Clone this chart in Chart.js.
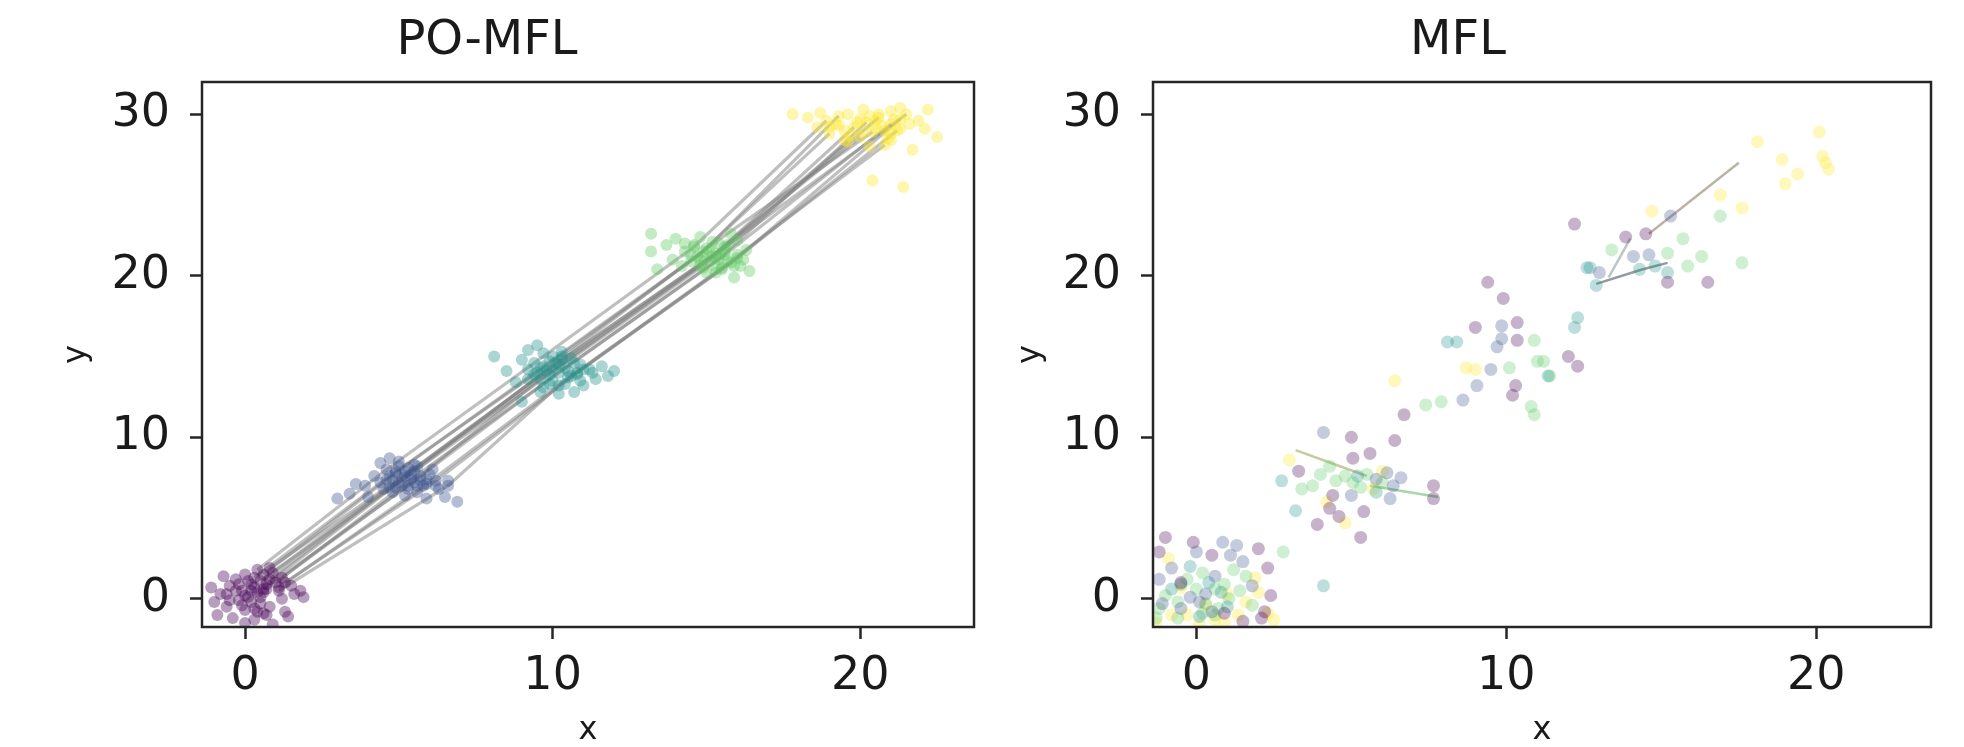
<!DOCTYPE html>
<html>
<head>
<meta charset="utf-8">
<script src="https://cdn.jsdelivr.net/npm/chart.js@4.4.1/dist/chart.umd.min.js"></script>
<style>
  html, body { margin: 0; padding: 0; background: #fff; }
  body { width: 1964px; height: 747px; position: relative; overflow: hidden; }
  .panel { position: absolute; top: 0; height: 747px; }
  #left { left: 0; width: 985px; }
  #right { left: 985px; width: 979px; }
</style>
</head>
<body>
<div class="panel" id="left"><canvas id="poChart" width="985" height="747"></canvas></div>
<div class="panel" id="right"><canvas id="mflChart" width="979" height="747"></canvas></div>
<script>
// axis setup
const xTicks = [0, 10, 20];
const yTicks = [0, 10, 20, 30];
const xRange = [-1.4, 23.7];
const yRange = [-1.75, 32.0];

// PO-MFL: one array pair per time step, first TRACKS entries are linked by the grey paths
const TRACKS = 14;
const poPurpleX = [0.4, 0.6, 0.8, 1.0, 0.7, 1.2, 0.9, 1.1, 0.5, 1.3, 0.6, 1.1, 0.3, 0.8,
  -0.8, -0.5, -0.3, 0.0, 0.2, 0.4, -1.0, -0.6, -0.2, 0.1, 0.3, 0.5, 0.7, 1.2, 1.5, 1.8, 1.9,
  -0.4, 0.0, 0.3, 0.9, 1.3, -1.1, -0.7, 0.6, 0.2, -0.1, 1.4, 1.6, -0.9,
  -0.3, 0.0, 0.3, 0.6, -0.5, -0.1, 0.2, 0.5, 0.8, -0.2, 0.1, 0.4, -0.6, 0.7, 0.0];
const poPurpleY = [1.8, 1.5, 1.2, 1.0, 0.9, 1.3, 1.6, 0.7, 1.1, 1.0, 0.6, 0.5, 1.3, 1.9,
  0.3, 0.8, 1.2, 1.5, 0.9, 0.4, -0.2, -0.5, -0.1, 0.1, -0.6, -0.3, -1.0, 0.0, 0.8, 0.5, 0.1,
  -1.2, -1.5, -1.3, -1.6, -0.8, 0.7, 1.4, -0.9, 0.5, 0.5, -1.1, 0.3, -1.0,
  0.5, 0.2, 0.7, 0.4, -0.1, -0.4, -0.2, 0.1, -0.5, 0.9, 1.1, -0.8, 0.3, 0.6, -0.7];

const poBlueX = [4.6, 4.9, 5.2, 5.4, 5.0, 5.7, 5.5, 5.9, 5.1, 6.2, 5.3, 6.6, 4.7, 5.6,
  3.0, 3.4, 3.9, 4.2, 4.4, 4.7, 5.0, 5.3, 4.5, 4.9, 5.2, 5.6, 5.8, 6.0, 6.3, 6.5, 6.9,
  6.6, 4.0, 5.5, 4.8, 5.9, 3.6, 6.1,
  4.6, 4.9, 5.1, 5.4, 5.7, 4.8, 5.0, 5.3, 5.6, 4.4, 5.9, 5.2, 4.7, 5.5, 6.2];
const poBlueY = [8.0, 7.8, 7.6, 7.4, 7.2, 7.6, 7.9, 7.1, 7.5, 7.3, 7.0, 7.0, 7.6, 8.2,
  6.2, 6.5, 7.0, 7.6, 8.4, 8.7, 8.5, 8.1, 6.8, 6.9, 6.4, 6.6, 7.0, 7.7, 6.8, 6.3, 6.0,
  7.3, 6.3, 7.2, 7.3, 6.2, 7.1, 8.0,
  7.4, 7.9, 7.0, 7.7, 7.3, 6.6, 8.2, 6.8, 7.0, 7.2, 7.4, 7.9, 6.9, 8.3, 7.0];

const poTealX = [9.4, 9.7, 10.0, 10.2, 9.9, 10.4, 10.1, 10.6, 9.8, 10.8, 9.6, 10.2, 9.5, 10.3,
  8.1, 8.5, 8.8, 9.0, 9.2, 9.5, 9.7, 10.0, 10.3, 10.6, 10.9, 11.2, 11.6, 12.0, 11.4, 11.0,
  10.7, 10.2, 9.6, 9.9, 9.2, 10.5, 11.8, 9.0,
  9.6, 9.9, 10.2, 10.5, 10.8, 9.4, 10.0, 10.4, 10.7, 11.0, 9.7, 10.3, 9.2, 10.9, 11.3];
const poTealY = [14.6, 14.4, 14.2, 14.0, 13.9, 14.3, 14.6, 13.8, 14.1, 14.0, 13.6, 13.2, 14.0, 14.8,
  15.0, 14.1, 13.4, 14.8, 15.4, 15.7, 15.2, 15.0, 15.3, 14.9, 14.5, 14.2, 14.4, 14.1, 13.6, 13.2,
  12.8, 12.7, 12.8, 13.3, 13.6, 13.7, 13.8, 12.2,
  14.3, 14.7, 14.5, 14.1, 13.9, 13.9, 13.5, 13.3, 14.6, 14.2, 13.1, 15.0, 14.2, 13.5, 14.0];

const poGreenX = [14.6, 14.9, 15.2, 15.4, 15.1, 15.6, 15.0, 15.8, 15.3, 16.0, 14.8, 15.5, 14.7, 15.7,
  13.2, 13.2, 13.4, 13.7, 14.0, 14.3, 14.5, 14.8, 15.0, 15.4, 15.8, 16.1, 16.3, 16.4, 15.9,
  14.2, 15.6, 16.0, 13.9, 14.9, 15.3,
  14.5, 14.8, 15.1, 15.4, 15.7, 16.0, 14.9, 15.3, 15.6, 15.9, 14.6, 15.2, 15.5, 16.2, 14.3];
const poGreenY = [21.8, 21.5, 21.2, 21.0, 20.9, 21.3, 21.7, 20.8, 21.4, 21.1, 20.6, 20.5, 21.2, 21.9,
  22.6, 21.5, 20.4, 21.9, 22.3, 21.5, 20.9, 22.4, 20.2, 22.0, 22.6, 20.6, 21.6, 20.3, 19.9,
  20.6, 21.5, 22.2, 21.0, 21.1, 20.6,
  21.3, 21.0, 21.6, 21.2, 20.9, 21.3, 20.5, 20.2, 21.8, 20.6, 21.9, 22.1, 20.4, 21.0, 22.0];

const poYellowX = [18.9, 19.3, 19.8, 20.2, 20.6, 21.0, 20.4, 21.2, 20.0, 21.3, 19.6, 20.8, 19.0, 21.5,
  17.8, 18.3, 18.7, 19.2, 19.6, 20.1, 20.5, 21.0, 21.3, 21.9, 22.5, 22.1, 21.7, 21.4, 20.4,
  21.0, 20.3, 19.5, 20.8, 22.2, 21.6, 19.0,
  19.5, 19.9, 20.3, 20.7, 21.1, 19.7, 20.1, 20.5, 20.9, 21.3, 19.3, 20.0, 20.6, 21.0, 18.6];
const poYellowY = [29.6, 29.9, 29.2, 29.5, 29.8, 29.4, 28.9, 29.0, 28.6, 29.7, 28.3, 28.1, 28.8, 30.0,
  30.0, 29.8, 30.1, 29.4, 30.0, 30.3, 29.6, 30.2, 30.4, 29.6, 28.6, 29.1, 27.8, 25.5, 25.9,
  28.4, 28.0, 28.4, 29.0, 30.3, 29.4, 29.2,
  29.0, 29.5, 29.9, 29.3, 29.7, 28.7, 28.9, 29.1, 28.5, 29.1, 29.3, 29.7, 30.0, 28.8, 29.2];

// MFL: points grouped by colour
const mflPurpleX = [-1.0, 2.3, 2.2, 2.4, 2.0, 3.3, 5.05, 5.6, 4.4, 4.3, 4.6, 3.9, 5.4, 7.65, 7.65,
  5.3, 6.4, 5.0, 6.7, 9.4, 9.9, 10.35, 9.0, 10.35, 12.0, 12.3, 10.3, 10.2, 13.85, 14.5, 15.2,
  16.5, 12.2, -0.5, 0.5, 1.5, 2.1, -1.2, 0.9, -0.1];
const mflPurpleY = [3.8, 1.9, -0.8, 0.2, 3.1, 7.9, 8.7, 9.0, 6.4, 5.6, 5.1, 4.6, 5.4, 7.0, 6.2,
  3.8, 9.8, 10.0, 11.4, 19.6, 18.6, 17.1, 16.8, 16.0, 15.0, 14.4, 13.2, 12.6, 22.4, 22.6, 19.6,
  19.6, 23.2, 1.0, 2.7, -1.4, -1.2, 2.9, -0.9, 3.5];

const mflBlueX = [0.85, 1.3, 1.1, -0.8, 0.1, -0.5, 0.6, -1.2, 6.15, 6.35, 6.25, 5.8, 4.1, 8.6,
  9.85, 9.7, 9.85, 9.5, 9.05, 14.1, 14.6, 13.0, 15.3, 0.3, 1.8, -0.2, 0.5, -1.1, 1.5, 0.0,
  5.0, 6.6];
const mflBlueY = [3.5, 3.3, 2.7, 1.9, -0.2, -0.6, 1.4, 1.2, 7.8, 7.0, 6.2, 7.4, 10.3, 12.3,
  16.9, 15.6, 16.1, 14.2, 13.2, 21.2, 21.3, 20.2, 23.7, 0.3, 0.8, 0.1, -0.8, -0.3, 2.3, 2.9,
  6.4, 7.5];

const mflTealX = [2.75, 4.1, -0.8, 0.4, 3.2, 12.3, 12.2, 11.35, 12.6, 12.7, 12.9, 14.3, 14.8,
  15.2, -0.2, 1.0, 5.2, 8.1, 8.4, -0.5, 0.8, 0.1, 5.8];
const mflTealY = [7.3, 0.8, 0.6, 1.0, 5.45, 17.4, 16.8, 13.8, 20.5, 20.5, 19.4, 20.4, 20.6,
  20.2, 2.0, -0.5, 7.6, 15.9, 15.9, 0.9, 0.4, -1.1, 6.6];

const mflGreenX = [1.6, 0.0, 1.05, 0.6, 2.8, 4.3, 5.05, 3.75, 3.4, 4.8, 5.5, 10.1, 10.9, 11.0,
  11.2, 11.4, 10.8, 10.9, 7.4, 7.9, 13.4, 15.2, 15.7, 15.85, 17.6, 16.9, 16.3, -1.2, 0.6, -0.6,
  1.2, 0.2, -1.0, -0.3, 0.3, 0.9, -0.6, 0.2, 1.4, -1.3, 0.7, 1.8, 4.5, 5.3, 6.0, 4.0];
const mflGreenY = [1.4, 0.6, 0.0, -1.0, 2.9, 8.2, 7.2, 7.0, 6.8, 7.6, 7.7, 14.3, 16.0, 14.7,
  14.7, 13.8, 11.9, 11.4, 12.0, 12.2, 21.6, 21.4, 22.3, 20.6, 20.8, 23.7, 21.2, -0.6, 0.6, -1.2,
  1.8, -0.9, 0.2, 1.2, -0.3, 0.9, -0.2, 1.6, 0.5, -1.2, -0.6, -0.4, 7.3, 6.9, 7.2, 7.7];

const mflYellowX = [-0.8, -0.3, 1.35, 1.6, 0.9, 2.5, -0.9, 5.7, 4.8, 3.0, 6.4, 8.7, 9.0, 14.7,
  16.9, 18.1, 20.3, 18.9, 19.4, 19.0, 20.1, 20.4, 20.2, 17.6, 0.3, 2.0, -1.3, 0.1, 1.0, -0.5,
  0.6, 2.3, 1.9, 4.2, 6.0];
const mflYellowY = [-1.0, -1.0, -1.0, -0.2, -1.5, -1.3, 2.5, 6.8, 4.7, 8.6, 13.5, 14.3, 14.2, 24.0,
  25.0, 28.3, 27.0, 27.2, 26.3, 25.7, 28.9, 26.6, 27.4, 24.2, -0.4, 0.4, -1.5, -1.6, 0.3, 0.7,
  -1.3, -0.9, 1.3, 6.0, 7.9];

// the few connecting paths visible in the MFL panel
const mflPathX = [[3.2, 4.5, 5.5], [5.6, 7.8], [12.9, 14.4, 15.2], [14.6, 17.5], [13.3, 14.0]];
const mflPathY = [[9.2, 8.3, 7.6], [7.0, 6.3], [19.5, 20.4, 20.8], [22.6, 27.0], [19.9, 22.3]];

const FONT = "'DejaVu Sans', 'Liberation Sans', sans-serif";
const INK = '#1a1a1a';
const viridis = ['68,1,84', '59,82,139', '33,145,140', '94,201,98', '253,231,37'];
const mflPathColors = ['rgba(150,160,80,0.55)', 'rgba(94,180,98,0.55)', 'rgba(60,70,80,0.55)',
  'rgba(150,140,115,0.65)', 'rgba(90,110,110,0.4)'];

const toPoints = (xs, ys) => xs.map((x, i) => ({ x: x, y: ys[i] }));

const framePlugin = {
  id: 'frame',
  afterDatasetsDraw(chart) {
    const { ctx, chartArea: a } = chart;
    ctx.save();
    ctx.strokeStyle = '#262626';
    ctx.lineWidth = 2.5;
    ctx.strokeRect(a.left, a.top, a.right - a.left, a.bottom - a.top);
    ctx.restore();
  }
};

function scatterSet(xs, ys, rgb, alpha, radius) {
  return {
    type: 'scatter',
    data: toPoints(xs, ys),
    backgroundColor: 'rgba(' + rgb + ',' + alpha + ')',
    borderWidth: 0,
    pointRadius: radius,
    pointHoverRadius: radius,
    clip: 0,
    order: 1
  };
}

function pathSet(points, color, width) {
  return {
    type: 'line',
    data: points,
    showLine: true,
    borderColor: color,
    borderWidth: width,
    pointRadius: 0,
    fill: false,
    tension: 0,
    clip: 0,
    order: 5
  };
}

function buildOptions(titleText, yAxisWidth, yTitlePad, rightPad) {
  const tickFont = { family: FONT, size: 46, lineHeight: 1 };
  const gridOpts = { drawOnChartArea: false, drawTicks: true, tickLength: 12, tickWidth: 2.5, tickColor: '#262626' };
  return {
    responsive: false,
    animation: false,
    events: [],
    layout: { padding: { left: 0, right: rightPad, top: 0, bottom: 0 } },
    plugins: {
      legend: { display: false },
      tooltip: { enabled: false },
      title: {
        display: true,
        text: titleText,
        color: INK,
        font: { family: FONT, size: 48, weight: 'normal', lineHeight: 1 },
        padding: { top: 18, bottom: 16 }
      }
    },
    scales: {
      x: {
        type: 'linear',
        min: xRange[0],
        max: xRange[1],
        afterBuildTicks: s => { s.ticks = xTicks.map(v => ({ value: v })); },
        afterFit: s => { s.height = 120; },
        grid: gridOpts,
        border: { display: false },
        ticks: { font: tickFont, color: INK, padding: 15, maxRotation: 0, autoSkip: false },
        title: { display: true, text: 'x', color: INK, font: { family: FONT, size: 32, lineHeight: 1 }, padding: 0 }
      },
      y: {
        type: 'linear',
        min: yRange[0],
        max: yRange[1],
        afterBuildTicks: s => { s.ticks = yTicks.map(v => ({ value: v })); },
        afterFit: s => { s.width = yAxisWidth; },
        grid: gridOpts,
        border: { display: false },
        ticks: { font: tickFont, color: INK, padding: 20, autoSkip: false },
        title: { display: true, text: 'y', color: INK, font: { family: FONT, size: 32, lineHeight: 1 }, padding: { top: yTitlePad, bottom: yTitlePad } }
      }
    }
  };
}

// left panel
const poClustersX = [poPurpleX, poBlueX, poTealX, poGreenX, poYellowX];
const poClustersY = [poPurpleY, poBlueY, poTealY, poGreenY, poYellowY];
const poSets = [];
poClustersX.forEach((xs, k) => poSets.push(scatterSet(xs, poClustersY[k], viridis[k], 0.38, 6)));
for (let j = 0; j < TRACKS; j++) {
  const track = poClustersX.map((xs, k) => ({ x: xs[j], y: poClustersY[k][j] }));
  poSets.push(pathSet(track, 'rgba(128,128,128,0.5)', 3.2));
}

new Chart(document.getElementById('poChart'), {
  type: 'scatter',
  data: { datasets: poSets },
  options: buildOptions('PO-MFL', 202, 61, 11),
  plugins: [framePlugin]
});

// right panel
const mflX = [mflPurpleX, mflBlueX, mflTealX, mflGreenX, mflYellowX];
const mflY = [mflPurpleY, mflBlueY, mflTealY, mflGreenY, mflYellowY];
const mflSets = mflX.map((xs, k) => scatterSet(xs, mflY[k], viridis[k], 0.3, 6.5));
mflPathX.forEach((xs, i) => mflSets.push(pathSet(toPoints(xs, mflPathY[i]), mflPathColors[i], 2.5)));

new Chart(document.getElementById('mflChart'), {
  type: 'scatter',
  data: { datasets: mflSets },
  options: buildOptions('MFL', 168, 30, 33),
  plugins: [framePlugin]
});
</script>
</body>
</html>
